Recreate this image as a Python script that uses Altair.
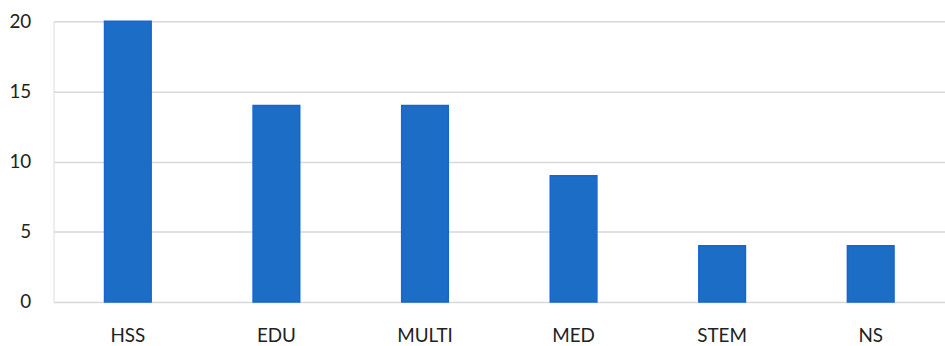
import altair as alt
import pandas as pd

categories = ["HSS", "EDU", "MULTI", "MED", "STEM", "NS"]
values = [20, 14, 14, 9, 4, 4]

df = pd.DataFrame({"cat": categories, "val": values})

chart = alt.Chart(df).mark_bar(
    color="#1b6dc6", stroke="#1565d4", strokeWidth=1.5
).encode(
    x=alt.X("cat:N", sort=categories, title=None,
            scale=alt.Scale(paddingInner=0.686, paddingOuter=0.343),
            axis=alt.Axis(labelAngle=0, labelFont="Lato", labelFontSize=19,
                          labelColor="#222222", labelPadding=25, ticks=False,
                          domain=False)),
    y=alt.Y("val:Q", title=None,
            scale=alt.Scale(domain=[0, 20], nice=False),
            axis=alt.Axis(values=[0, 5, 10, 15, 20], labelFont="Lato",
                          labelFontSize=19, labelColor="#222222",
                          labelPadding=23, ticks=False, domain=False,
                          gridColor="#d9d9d9", gridWidth=1.5)),
).properties(
    width=899, height=283,
    autosize=alt.AutoSizeParams(type="none"),
    padding={"left": 54, "top": 20, "right": 0, "bottom": 43},
).configure_view(stroke=None).configure(background="white")

chart.save("out.html", embed_options={"renderer": "svg", "actions": False})
